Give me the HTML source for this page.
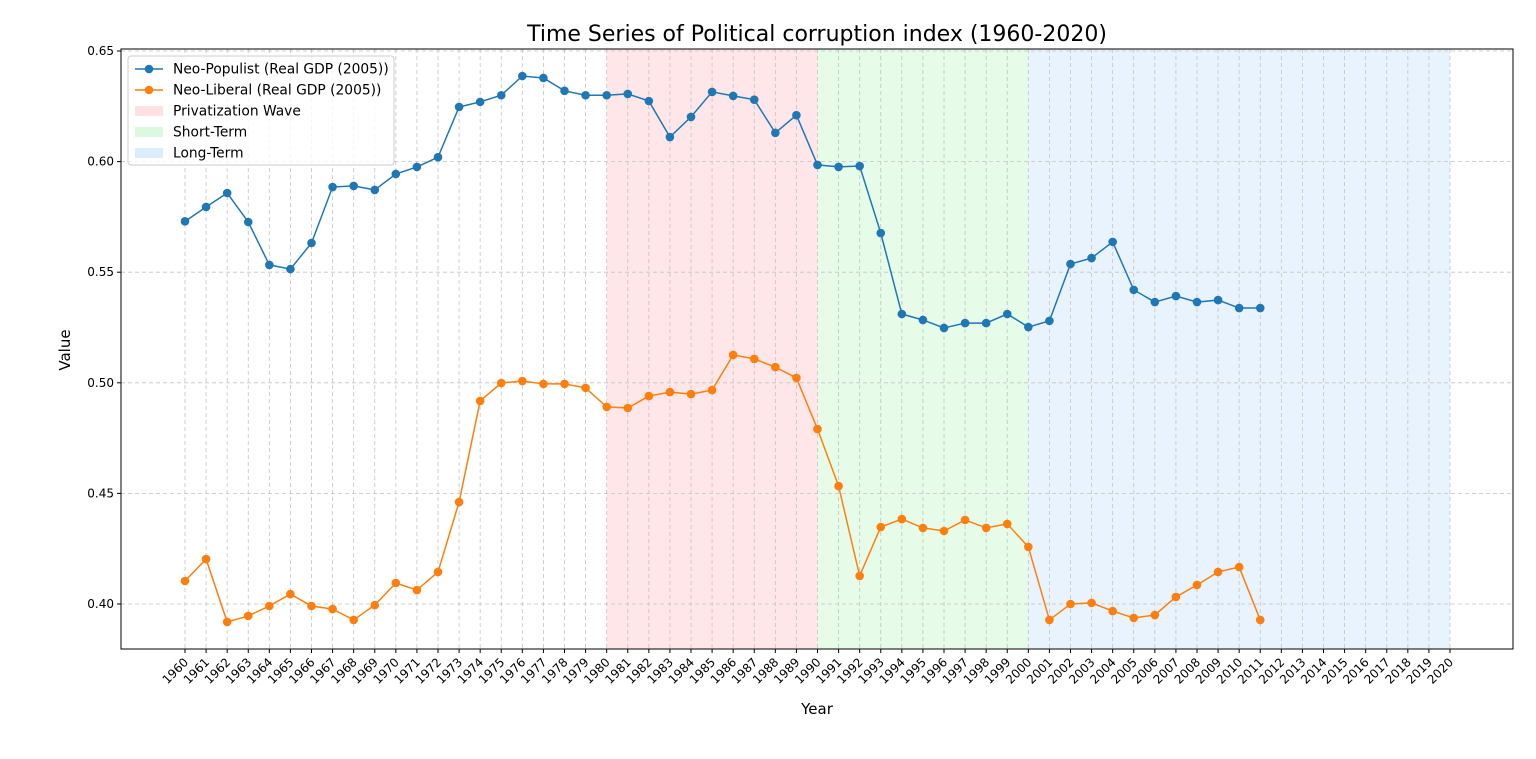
<!DOCTYPE html>
<html><head><meta charset="utf-8"><style>
body{margin:0;background:#fff;font-family:"Liberation Sans","DejaVu Sans",sans-serif;}
svg text{font-family:"DejaVu Sans","Liberation Sans",sans-serif;}
</style></head><body>
<svg id="chart" width="1536" height="754" xmlns="http://www.w3.org/2000/svg"></svg>
<script>
const years=[];for(let y=1960;y<=2011;y++)years.push(y);
const tickYears=[];for(let y=1960;y<=2020;y++)tickYears.push(y);
const yTicks=[0.40,0.45,0.50,0.55,0.60,0.65];
const populist=[0.573,0.5795,0.5858,0.5727,0.5533,0.5514,0.5632,0.5885,0.589,0.5872,0.5944,0.5976,0.602,0.6247,0.627,0.630,0.6387,0.6378,0.632,0.630,0.630,0.6306,0.6274,0.6111,0.6202,0.6315,0.6297,0.628,0.613,0.621,0.5985,0.5976,0.598,0.5677,0.5311,0.5284,0.5248,0.527,0.527,0.5311,0.5252,0.528,0.5537,0.5564,0.5637,0.542,0.5365,0.5392,0.5365,0.5374,0.5338,0.5338];
const liberal=[0.4104,0.4203,0.3919,0.3946,0.3991,0.4045,0.3991,0.3977,0.3928,0.3995,0.4095,0.4063,0.4145,0.4461,0.4918,0.4999,0.5008,0.4995,0.4995,0.4977,0.4891,0.4886,0.494,0.4958,0.4949,0.4967,0.5126,0.5108,0.5071,0.5022,0.4791,0.4533,0.4127,0.4348,0.4384,0.4344,0.433,0.438,0.4344,0.4362,0.4258,0.3928,0.400,0.4005,0.3968,0.3937,0.395,0.4032,0.4086,0.4145,0.4167,0.3928];
const periods=[{name:"Privatization Wave",s:1980,e:1990,c:"#ffe6e8"},{name:"Short-Term",s:1990,e:2000,c:"#e6fbe8"},{name:"Long-Term",s:2000,e:2020,c:"#e8f3fd"}];
const L=121,R=1513,T=49,B=649;
const xs=y=>185+(y-1960)*(1450-185)/60;
const ys=v=>604-(v-0.4)*2212;
const svg=document.getElementById('chart');const NS="http://www.w3.org/2000/svg";
function el(tag,attrs,parent){const e=document.createElementNS(NS,tag);for(const k in attrs)e.setAttribute(k,attrs[k]);(parent||svg).appendChild(e);return e;}
periods.forEach(p=>{const r=el('rect',{x:xs(p.s),y:T,width:xs(p.e)-xs(p.s),height:B-T,fill:p.c});

});
tickYears.forEach(y=>{const g=el('line',{x1:xs(y),x2:xs(y),y1:T,y2:B,stroke:'#c4c4c4','stroke-dasharray':'4,3','stroke-width':0.8});

el('line',{x1:xs(y),x2:xs(y),y1:B,y2:B+4,stroke:'#000'});
const tx=el('text',{x:xs(y)+4,y:B+14,'font-size':12,'text-anchor':'end',transform:`rotate(-45 ${xs(y)+4} ${B+14})`});tx.textContent=y;
});
yTicks.forEach(v=>{const g=el('line',{x1:L,x2:R,y1:ys(v),y2:ys(v),stroke:'#c4c4c4','stroke-dasharray':'4,3','stroke-width':0.8});

el('line',{x1:L-4,x2:L,y1:ys(v),y2:ys(v),stroke:'#000'});
const tx=el('text',{x:L-7,y:ys(v)+4,'font-size':12,'text-anchor':'end'});tx.textContent=v.toFixed(2);
});
function series(data,color,name){const pts=data.map((v,i)=>xs(years[i])+','+ys(v)).join(' ');
const pl=el('polyline',{points:pts,fill:'none',stroke:color,'stroke-width':1.5});

data.forEach((v,i)=>{const c=el('circle',{cx:xs(years[i]),cy:ys(v),r:4.3,fill:color});
});}
series(populist,'#1f77b4','neo-populist');
series(liberal,'#ff7f0e','neo-liberal');
const fr=el('rect',{x:L,y:T,width:R-L,height:B-T,fill:'none',stroke:'#000','stroke-width':1});

const title=el('text',{x:817,y:41,'font-size':22,'text-anchor':'middle'});title.textContent='Time Series of Political corruption index (1960-2020)';

const xt=el('text',{x:817,y:714,'font-size':15,'text-anchor':'middle'});xt.textContent='Year';

const yt=el('text',{x:70,y:350,'font-size':15,'text-anchor':'middle',transform:'rotate(-90 70 350)'});yt.textContent='Value';

const lg=el('g',{});
el('rect',{x:128,y:56,width:266,height:109,fill:'#fff','fill-opacity':0.8,stroke:'#ccc',rx:3},lg);
const entries=[{t:'Neo-Populist (Real GDP (2005))',c:'#1f77b4',k:'line'},{t:'Neo-Liberal (Real GDP (2005))',c:'#ff7f0e',k:'line'},{t:'Privatization Wave',c:'#ffe0e3',k:'patch'},{t:'Short-Term',c:'#dcf9df',k:'patch'},{t:'Long-Term',c:'#dcecfb',k:'patch'}];
entries.forEach((e,i)=>{const y=69+i*21;const g=el('g',{},lg);

if(e.k==='line'){el('line',{x1:135,x2:163,y1:y,y2:y,stroke:e.c,'stroke-width':1.5},g);el('circle',{cx:149,cy:y,r:4.3,fill:e.c},g);}
else el('rect',{x:135,y:y-5,width:28,height:10,fill:e.c},g);
const t=el('text',{x:173,y:y+4.5,'font-size':13.8},g);t.textContent=e.t;});
</script>
</body></html>
